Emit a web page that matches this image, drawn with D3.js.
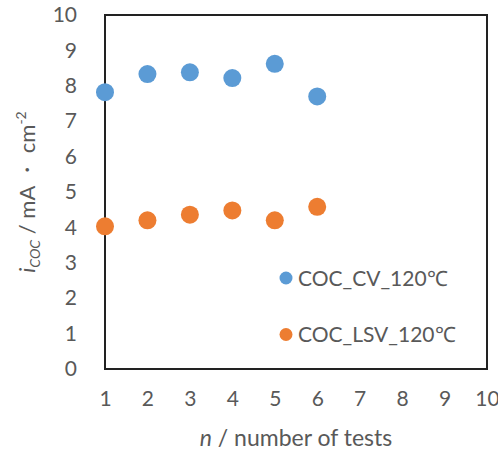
<!DOCTYPE html>
<html>
<head>
<meta charset="utf-8">
<script src="https://cdn.jsdelivr.net/npm/d3@7"></script>
<style>
  html, body { margin: 0; padding: 0; background: #fff; }
  svg { display: block; }
  text { font-family: Lato, "Open Sans", "Liberation Sans", sans-serif; fill: #595959; }
</style>
</head>
<body>
<svg id="chart" width="498" height="452"></svg>
<script>
// Test number (x) for each measurement
const tests = [1, 2, 3, 4, 5, 6];
// Current density i_COC (mA·cm⁻²) per series
const cvValues  = [7.82, 8.33, 8.38, 8.22, 8.62, 7.70];
const lsvValues = [4.03, 4.20, 4.36, 4.48, 4.20, 4.58];
const seriesNames = ["COC_CV_120℃", "COC_LSV_120℃"];
const seriesColors = ["#5B9BD5", "#ED7D31"];
const xTicks = [1, 2, 3, 4, 5, 6, 7, 8, 9, 10];
const yTicks = [0, 1, 2, 3, 4, 5, 6, 7, 8, 9, 10];

const svg = d3.select("#chart");
const plot = { left: 105, top: 15, right: 487, bottom: 369 };

const x = d3.scaleLinear().domain([1, 10]).range([plot.left, plot.right]);
const y = d3.scaleLinear().domain([0, 10]).range([plot.bottom, plot.top]);

// Plot frame
svg.append("rect")
  .attr("x", plot.left).attr("y", plot.top)
  .attr("width", plot.right - plot.left).attr("height", plot.bottom - plot.top)
  .attr("fill", "none").attr("stroke", "#222").attr("stroke-width", 2);

// Axes (labels only; frame draws the lines)
const xAxis = svg.append("g")
  .attr("transform", `translate(0,${plot.bottom})`)
  .call(d3.axisBottom(x).tickValues(xTicks).tickSize(0).tickPadding(22).tickFormat(d3.format("d")));
xAxis.select(".domain").remove();
xAxis.selectAll("text").style("font-size", "21px").attr("fill", "#595959");

const yAxis = svg.append("g")
  .attr("transform", `translate(${plot.left},0)`)
  .call(d3.axisLeft(y).tickValues(yTicks).tickSize(0).tickPadding(28).tickFormat(d3.format("d")));
yAxis.select(".domain").remove();
yAxis.selectAll("text").style("font-size", "21px").attr("fill", "#595959");

// Series points
const series = [cvValues, lsvValues];
series.forEach((vals, si) => {
  svg.append("g").selectAll("circle")
    .data(tests.map((t, i) => ({ t, v: vals[i] })))
    .join("circle")
    .attr("cx", d => x(d.t))
    .attr("cy", d => y(d.v))
    .attr("r", 9)
    .attr("fill", seriesColors[si]);
});

// Legend
const legend = svg.append("g");
seriesNames.forEach((name, i) => {
  const ly = 278 + i * 56.5;
  legend.append("circle").attr("cx", 286).attr("cy", ly).attr("r", 6.5).attr("fill", seriesColors[i]);
  legend.append("text").attr("x", 298).attr("y", ly + 7.5)
    .style("font-size", "21px").text(name);
});

// Axis titles
const xTitle = svg.append("text")
  .attr("x", (plot.left + plot.right) / 2).attr("y", 446)
  .attr("text-anchor", "middle").style("font-size", "23px");
xTitle.append("tspan").style("font-style", "italic").text("n");
xTitle.append("tspan").text(" / number of tests");

const yTitle = svg.append("text")
  .attr("transform", `translate(35,${(plot.top + plot.bottom) / 2}) rotate(-90)`)
  .attr("text-anchor", "middle").style("font-size", "22px");
yTitle.append("tspan").style("font-style", "italic").text("i");
yTitle.append("tspan").style("font-style", "italic").style("font-size", "14px").attr("dy", 5).text("COC");
yTitle.append("tspan").attr("dy", -5).text(" / mA ・ cm");
yTitle.append("tspan").style("font-size", "14px").attr("dy", -9).text("-2");
</script>
</body>
</html>
